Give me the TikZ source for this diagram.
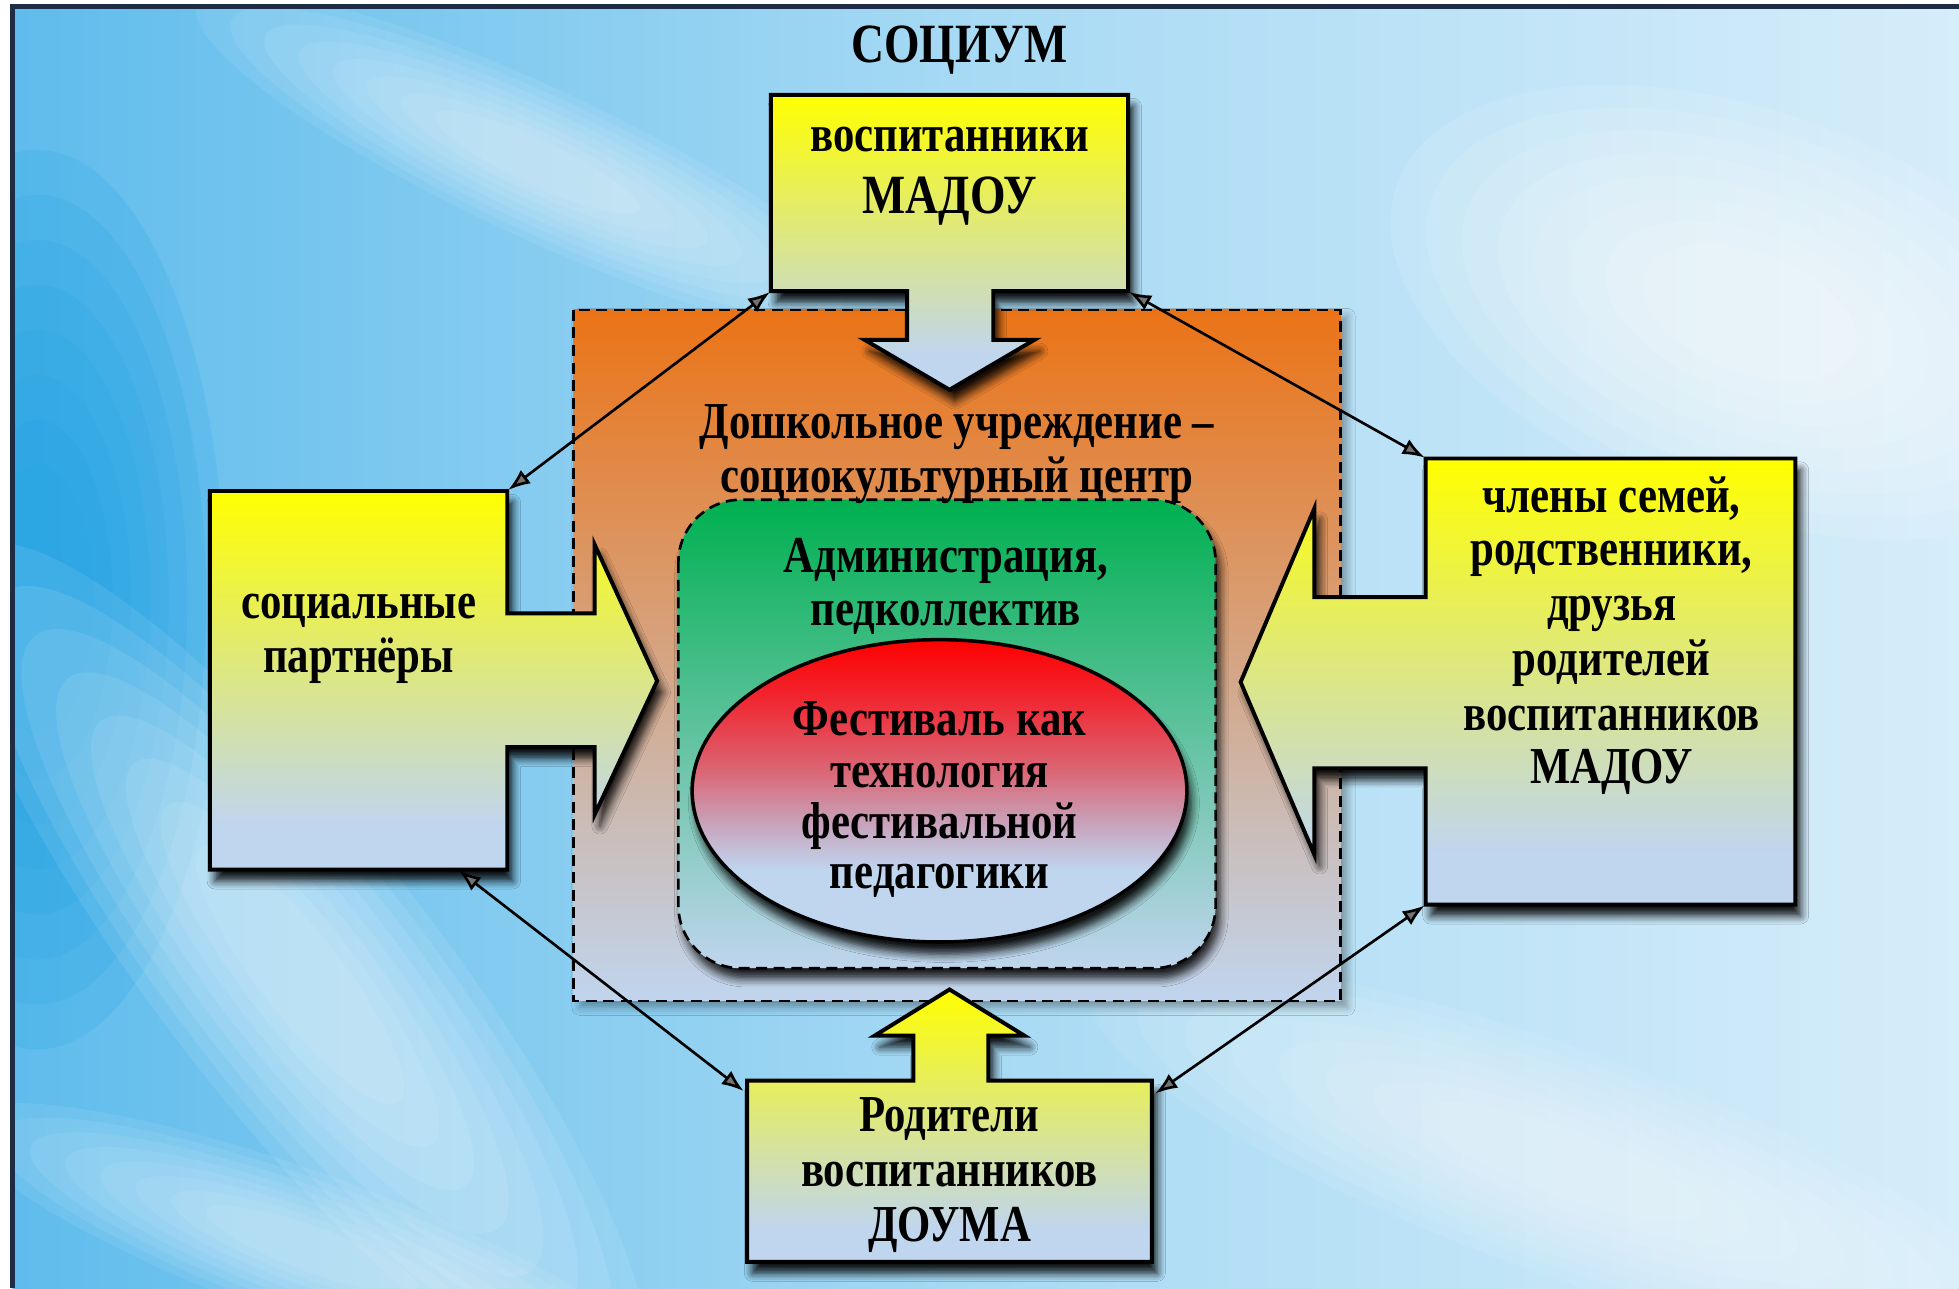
\documentclass[tikz,border=0pt]{standalone}
\usepackage{fontspec}
\setmainfont{Liberation Serif}[FakeStretch=0.825]
\usetikzlibrary{shadows.blur,arrows.meta,calc}
\definecolor{ylw}{RGB}{255,255,0}
\definecolor{ymid}{RGB}{222,232,125}
\definecolor{lblue}{RGB}{192,213,238}
\definecolor{orng}{RGB}{235,115,22}
\definecolor{grn}{RGB}{0,176,80}
\definecolor{rd}{RGB}{255,0,0}
\definecolor{rdA}{RGB}{240,40,50}
\definecolor{rdB}{RGB}{218,104,119}
\definecolor{rdC}{RGB}{200,160,184}
\definecolor{skyL}{RGB}{95,188,236}
\definecolor{skyM}{RGB}{168,218,244}
\definecolor{skyR}{RGB}{214,237,250}
\definecolor{skyD}{RGB}{35,163,228}
\definecolor{framec}{RGB}{30,45,70}
\pgfdeclareverticalshading{boxsh}{100bp}{color(0bp)=(lblue); color(25bp)=(lblue); color(31bp)=(lblue); color(52bp)=(ymid); color(75bp)=(ylw); color(100bp)=(ylw)}
\pgfdeclareverticalshading{redsh}{100bp}{color(0bp)=(lblue); color(25bp)=(lblue); color(37bp)=(lblue); color(45bp)=(rdC); color(53bp)=(rdB); color(65bp)=(rdA); color(75bp)=(rd); color(100bp)=(rd)}
\newcommand\softblob[7]{%
  \foreach \s in {1.0,0.9,0.8,0.7,0.6,0.5,0.4,0.3}{%
    \fill[#6, opacity=#7, rotate around={#5:(#1,#2)}] (#1,#2) ellipse ({#3*\s} and {#4*\s});}}
\begin{document}
\begin{tikzpicture}[x=0.01cm,y=-0.01cm,
  txt/.style={anchor=base, inner sep=0pt, font=\fontsize{11.8}{14}\selectfont\bfseries},
  bigtxt/.style={txt, font=\fontsize{12.6}{14}\selectfont\bfseries},
  boxslot/.style={inner sep=0pt, draw=none},
  callout/.style={draw=black, line width=0.9pt, shading=boxsh,
    blur shadow={shadow xshift=1.2pt, shadow yshift=-2.6pt, shadow opacity=90, shadow blur steps=6}},
  link/.style={line width=0.6pt, {Latex[length=5pt,width=3.8pt]}-{Latex[length=5pt,width=3.8pt]}}
]
\useasboundingbox (0,0) rectangle (1568,1031);
% background
\fill[white] (0,0) rectangle (1568,1031);
\fill[left color=skyL, right color=skyR, middle color=skyM] (10,5) rectangle (1568,1031);
\begin{scope}
\clip (10,5) rectangle (1568,1031);
\softblob{30}{480}{150}{360}{0}{skyD}{0.18}
\softblob{240}{780}{430}{110}{-52}{white}{0.09}
\softblob{430}{130}{300}{60}{-25}{white}{0.08}
\softblob{1400}{250}{300}{160}{-20}{white}{0.11}
\softblob{1250}{930}{400}{90}{-20}{white}{0.08}
\softblob{250}{1000}{300}{60}{-20}{white}{0.08}
\end{scope}
\draw[line width=1.2pt, framec] (10,1031) -- (10,5) -- (1568,5);

% centre: institution
\path[draw=black, line width=0.5pt, dash pattern=on 2.5pt off 1.5pt, top color=orng, bottom color=lblue,
  blur shadow={shadow xshift=1.5pt, shadow yshift=-1.5pt, shadow opacity=35, shadow blur steps=5}]
  (459,248) rectangle (1073,801);
\path[draw=black, line width=0.6pt, dash pattern=on 2.5pt off 1.5pt, rounded corners=0.5cm, top color=grn, bottom color=lblue,
  blur shadow={shadow xshift=1pt, shadow yshift=-2.4pt, shadow opacity=85, shadow blur steps=6}]
  (543,400) rectangle (973,775);
\path[draw=black, line width=0.8pt, shading=redsh,
  blur shadow={shadow xshift=1pt, shadow yshift=-2.8pt, shadow opacity=90, shadow blur steps=6}]
  (752,633) ellipse (198 and 121);

% callout shapes
\path[callout] (617,76) -- (903,76) -- (903,233) -- (795,233) -- (795,272) -- (828,272) -- (760,312)
  -- (692,272) -- (726,272) -- (726,233) -- (617,233) -- cycle;
\path[callout] (168,393) -- (406,393) -- (406,491) -- (476,491) -- (476,436) -- (526,545) -- (476,652)
  -- (476,598) -- (406,598) -- (406,696) -- (168,696) -- cycle;
\path[callout] (1437,367) -- (1141,367) -- (1141,478) -- (1052,478) -- (1052,407) -- (993,546) -- (1052,684)
  -- (1052,615) -- (1141,615) -- (1141,724) -- (1437,724) -- cycle;
\path[callout] (598,1010) -- (922,1010) -- (922,865) -- (791,865) -- (791,829) -- (820,829) -- (760,792)
  -- (700,829) -- (731,829) -- (731,865) -- (598,865) -- cycle;

% box slots
\node[boxslot, minimum width=2.86cm, minimum height=1.57cm] (topbox) at (760,154.5) {};
\node[boxslot, minimum width=2.38cm, minimum height=3.03cm] (leftbox) at (287,544.5) {};
\node[boxslot, minimum width=2.96cm, minimum height=3.57cm] (rightbox) at (1289,545.5) {};
\node[boxslot, minimum width=3.24cm, minimum height=1.45cm] (botbox) at (760,937.5) {};
\coordinate (leftlow) at ($(leftbox.south)!0.67!(leftbox.south east)$);
\coordinate (botnw) at ($(botbox.north west)+(-2,9)$);
\coordinate (botne) at ($(botbox.north east)+(2,11)$);

% links
\draw[link] (topbox.south west) -- (leftbox.north east);
\draw[link] (topbox.south east) -- (rightbox.north west);
\draw[link] (leftlow) -- (botnw);
\draw[link] (rightbox.south west) -- (botne);

% texts
\node[bigtxt] (title) at (768,50) {СОЦИУМ};
\node[txt] (t1a) at (760,121) {воспитанники};
\node[bigtxt] (t1b) at (760,171) {МАДОУ};
\node[txt] (c1a) at (766,351) {Дошкольное учреждение –};
\node[txt] (c1b) at (766,394) {социокультурный центр};
\node[txt] (c2a) at (757,458) {Администрация,};
\node[txt] (c2b) at (757,501) {педколлектив};
\node[txt] (c3a) at (752,589) {Фестиваль как};
\node[txt] (c3b) at (752,630) {технология};
\node[txt] (c3c) at (752,671) {фестивальной};
\node[txt] (c3d) at (752,711) {педагогики};
\node[txt] (l1a) at (287,495) {социальные};
\node[txt] (l1b) at (287,538) {партнёры};
\node[txt] (r1a) at (1290,410) {члены семей,};
\node[txt] (r1b) at (1290,453) {родственники,};
\node[txt] (r1c) at (1290,497) {друзья};
\node[txt] (r1d) at (1290,541) {родителей};
\node[txt] (r1e) at (1290,585) {воспитанников};
\node[txt] (r1f) at (1290,627) {МАДОУ};
\node[txt] (b1a) at (760,906) {Родители};
\node[txt] (b1b) at (760,950) {воспитанников};
\node[txt] (b1c) at (760,994) {ДОУМА};
\end{tikzpicture}
\end{document}
